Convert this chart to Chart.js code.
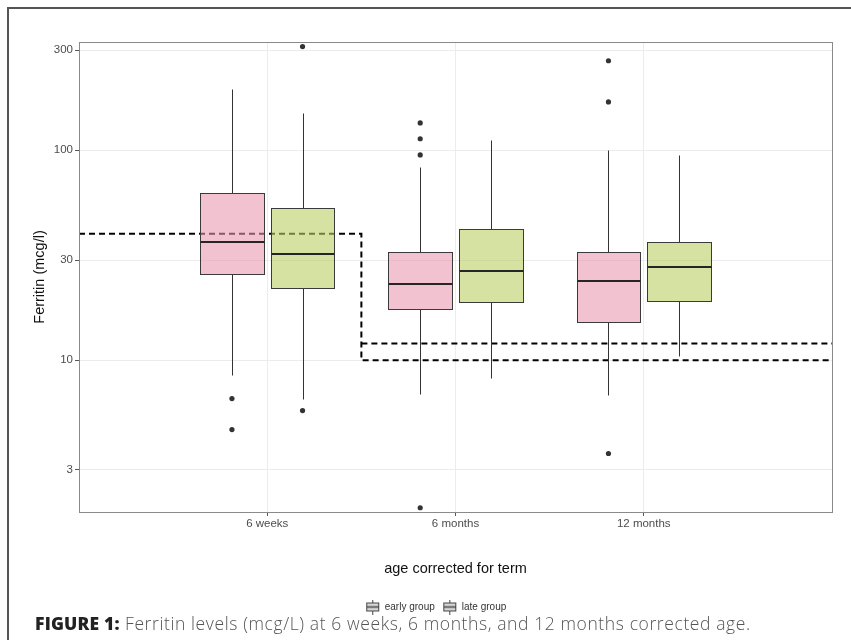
<!DOCTYPE html>
<html><head><meta charset="utf-8">
<script src="https://cdn.jsdelivr.net/npm/chart.js@4.4.1/dist/chart.umd.min.js"></script>
<style>
html,body{margin:0;padding:0;background:#fff;width:851px;height:640px;overflow:hidden;}
#frame{position:absolute;left:7px;top:7px;width:850px;height:640px;border-left:2px solid #555;border-top:2px solid #555;}
#c{position:absolute;left:0;top:0;}
#cap{position:absolute;left:35px;top:613px;font-family:'Open Sans',Lato,sans-serif;font-size:17.5px;line-height:20px;letter-spacing:0.6px;color:#555;font-weight:300;white-space:nowrap;}
#cap b{font-weight:800;color:#222;letter-spacing:0.2px;}
</style></head><body>
<div id="frame"></div>
<canvas id="c" width="851" height="640"></canvas>
<div id="cap"><b>FIGURE 1:</b> Ferritin levels (mcg/L) at 6 weeks, 6 months, and 12 months corrected age.</div>
<script>
// ---- data ----
const categories = ['6 weeks', '6 months', '12 months'];
const groupNames = ['early group', 'late group'];
// per category: [lower whisker, Q1, median, Q3, upper whisker]
const earlyStats = [[8.5, 25.8, 36.7, 62.8, 195], [6.9, 17.6, 23.1, 32.9, 83.4], [6.8, 15.2, 23.9, 32.9, 100]];
const lateStats  = [[6.5, 22.1, 32.1, 53.2, 151], [8.2, 19.0, 26.7, 42.3, 112], [10.5, 19.2, 27.9, 36.7, 95]];
const earlyOutliers = [[6.56, 4.67], [135, 113.5, 95, 1.98], [267, 170, 3.59]];
const lateOutliers  = [[312, 5.75], [], []];
const yTicks = [3, 10, 30, 100, 300];
const refLineAX = [0, 1.5, 1.5, 4];
const refLineAY = [40, 40, 10, 10];
const refLineBX = [1.5, 4];
const refLineBY = [12, 12];

// ---- styling/layout constants ----
const DODGE = 0.1875, HALF_W = 0.16875;
const FILL_EARLY = 'rgba(232,150,176,0.58)';
const FILL_LATE = 'rgba(187,207,100,0.6)';
const PAD_L = 40;

function outlierPoints(arr, off) {
  const pts = [];
  arr.forEach((vals, i) => vals.forEach(v => pts.push({x: i + 1 + off, y: v})));
  return pts;
}
function linePoints(xs, ys) { return xs.map((x, i) => ({x: x, y: ys[i]})); }

function legendIcon() {
  const c = document.createElement('canvas');
  c.width = 15; c.height = 15;
  const g = c.getContext('2d');
  g.strokeStyle = '#444'; g.lineWidth = 1;
  g.beginPath(); g.moveTo(7.5, 0); g.lineTo(7.5, 15); g.stroke();
  g.fillStyle = '#d6d6d6'; g.fillRect(1.5, 3.5, 12, 8);
  g.strokeRect(1.5, 3.5, 12, 8);
  g.beginPath(); g.moveTo(1.5, 7.5); g.lineTo(13.5, 7.5); g.lineWidth = 1.5; g.stroke();
  return c;
}
const icon = legendIcon();

const boxPlugin = {
  id: 'boxes',
  afterDatasetsDraw(chart) {
    const {ctx, chartArea, scales: {x, y}} = chart;
    ctx.save();
    ctx.beginPath(); ctx.rect(chartArea.left, chartArea.top, chartArea.width, chartArea.height); ctx.clip();
    const seg = (x1, y1, x2, y2) => { ctx.beginPath(); ctx.moveTo(x1, y1); ctx.lineTo(x2, y2); ctx.stroke(); };
    [[earlyStats, -DODGE, FILL_EARLY], [lateStats, DODGE, FILL_LATE]].forEach(([stats, off, fill]) => {
      stats.forEach((s, i) => {
        const cx = Math.round(x.getPixelForValue(i + 1 + off)) + 0.5;
        const l = Math.round(x.getPixelForValue(i + 1 + off - HALF_W)) + 0.5;
        const r = Math.round(x.getPixelForValue(i + 1 + off + HALF_W)) + 0.5;
        const p = s.map(v => Math.round(y.getPixelForValue(v)) + 0.5);
        ctx.strokeStyle = '#333'; ctx.lineWidth = 1;
        seg(cx, p[0], cx, p[1]); seg(cx, p[3], cx, p[4]);
        ctx.fillStyle = fill; ctx.fillRect(l, p[3], r - l, p[1] - p[3]);
        ctx.strokeStyle = '#3a3a3a'; ctx.strokeRect(l, p[3], r - l, p[1] - p[3]);
        ctx.strokeStyle = '#262626'; ctx.lineWidth = 2;
        seg(l, p[2] - 0.5, r, p[2] - 0.5);
      });
    });
    ctx.restore();
    ctx.save();
    ctx.strokeStyle = '#8a8a8a'; ctx.lineWidth = 1;
    ctx.strokeRect(Math.round(chartArea.left) + 0.5, Math.round(chartArea.top) + 0.5,
      Math.round(chartArea.width), Math.round(chartArea.height));
    ctx.restore();
  }
};

const tickFont = {family: 'Liberation Sans', size: 11.5};
const titleFont = {family: 'Liberation Sans', size: 14.5};
new Chart(document.getElementById('c'), {
  type: 'scatter',
  data: {
    datasets: [
      {label: groupNames[0], data: outlierPoints(earlyOutliers, -DODGE), pointRadius: 2.6, pointBackgroundColor: '#333', pointBorderWidth: 0, order: 2},
      {label: groupNames[1], data: outlierPoints(lateOutliers, DODGE), pointRadius: 2.6, pointBackgroundColor: '#333', pointBorderWidth: 0, order: 2},
      {type: 'line', label: 'ref-a', data: linePoints(refLineAX, refLineAY), borderColor: '#000', borderWidth: 2, borderDash: [6, 4], pointRadius: 0, fill: false, order: 3},
      {type: 'line', label: 'ref-b', data: linePoints(refLineBX, refLineBY), borderColor: '#000', borderWidth: 2, borderDash: [6, 4], pointRadius: 0, fill: false, order: 3}
    ]
  },
  options: {
    responsive: false,
    animation: false,
    devicePixelRatio: 1,
    layout: {padding: {left: PAD_L, right: 19, top: 42, bottom: 18}},
    scales: {
      x: {
        type: 'linear', min: 0, max: 4,
        afterBuildTicks: s => { s.ticks = categories.map((c, i) => ({value: i + 1})); },
        afterFit: s => { s.height = 82; },
        ticks: {callback: v => categories[v - 1], autoSkip: false, maxRotation: 0, font: tickFont, color: '#4d4d4d', padding: 1},
        grid: {color: '#ececec', tickColor: '#555', tickLength: 4},
        border: {display: false},
        title: {display: true, text: 'age corrected for term', font: titleFont, color: '#111', padding: {top: 0, bottom: 16.3}}
      },
      y: {
        type: 'logarithmic', min: 1.89, max: 328,
        afterBuildTicks: s => { s.ticks = yTicks.map(v => ({value: v})); },
        afterFit: s => { s.width = 79 - PAD_L; },
        ticks: {callback: v => String(v), autoSkip: false, font: tickFont, color: '#4d4d4d', padding: 2},
        grid: {color: '#ececec', tickColor: '#555', tickLength: 4},
        border: {display: false},
        title: {display: true, text: 'Ferritin (mcg/l)', font: titleFont, color: '#111', padding: {top: 40 - PAD_L - 8.7, bottom: 0}}
      }
    },
    plugins: {
      tooltip: {enabled: false},
      legend: {
        position: 'bottom',
        labels: {
          usePointStyle: true, pointStyleWidth: 14, padding: 8,
          font: {family: 'Liberation Sans', size: 10}, color: '#333',
          generateLabels: () => groupNames.map((n, i) => ({text: n, pointStyle: icon, fillStyle: '#d6d6d6', strokeStyle: '#444', lineWidth: 0, hidden: false, datasetIndex: i, fontColor: '#333'}))
        },
        onClick: null
      }
    }
  },
  plugins: [boxPlugin]
});
</script>
</body></html>
